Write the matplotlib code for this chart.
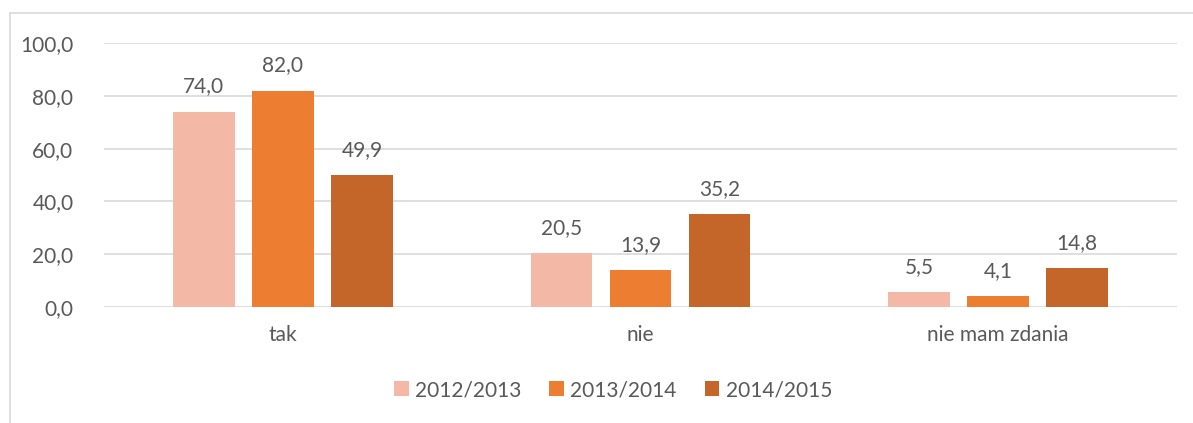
import matplotlib
matplotlib.use("Agg")
import matplotlib.pyplot as plt
from matplotlib.patches import Rectangle
import numpy as np

categories = ["tak", "nie", "nie mam zdania"]
series_names = ["2012/2013", "2013/2014", "2014/2015"]
v2012 = [74.0, 20.5, 5.5]
v2013 = [82.0, 13.9, 4.1]
v2014 = [49.9, 35.2, 14.8]
colors = ["#F4B9A6", "#ED7D31", "#C4652A"]
yticks = [0, 20, 40, 60, 80, 100]

plt.rcParams['font.family'] = ['Lato', 'DejaVu Sans']
txt = "#595959"
fs = 15

fig = plt.figure(figsize=(11.93, 4.23), dpi=100)
fig.patches.append(Rectangle((10/1193, -0.05), 1.1, 0.969 + 0.05, transform=fig.transFigure,
                             fill=False, edgecolor="#D9D9D9", linewidth=1.2, zorder=0))
ax = fig.add_axes([104/1193, 1-307/423, (1177-104)/1193, (307-43)/423])

x = np.arange(len(categories))
w = 0.173
step = 0.221
for i, (vals, name, c) in enumerate(zip([v2012, v2013, v2014], series_names, colors)):
    pos = x + (i - 1) * step
    ax.bar(pos, vals, width=w, color=c, label=name, zorder=3)
    for p, v in zip(pos, vals):
        ax.text(p, v + 9.5, f"{v:.1f}".replace(".", ","), ha="center", va="center",
                fontsize=fs, color=txt)

ax.set_xlim(-0.5, 2.5)
ax.set_ylim(0, 100)
ax.set_yticks(yticks)
ax.set_yticklabels([f"{t:.1f}".replace(".", ",") for t in yticks], fontsize=fs, color=txt)
ax.set_xticks(x)
ax.set_xticklabels(categories, fontsize=fs, color=txt)
ax.tick_params(axis="both", length=0)
ax.tick_params(axis="y", pad=22)
ax.tick_params(axis="x", pad=13)
ax.grid(axis="y", color="#D9D9D9", linewidth=1.2, zorder=0)
for s in ax.spines.values():
    s.set_visible(False)

handles, labels = ax.get_legend_handles_labels()
fig.legend(handles, labels, loc="center", bbox_to_anchor=(613/1193, 1-390/423), ncol=3,
           frameon=False, fontsize=fs, labelcolor=txt, handlelength=0.7, handleheight=0.7,
           handletextpad=0.3, columnspacing=1.35)

fig.savefig("out.png", dpi=100)
